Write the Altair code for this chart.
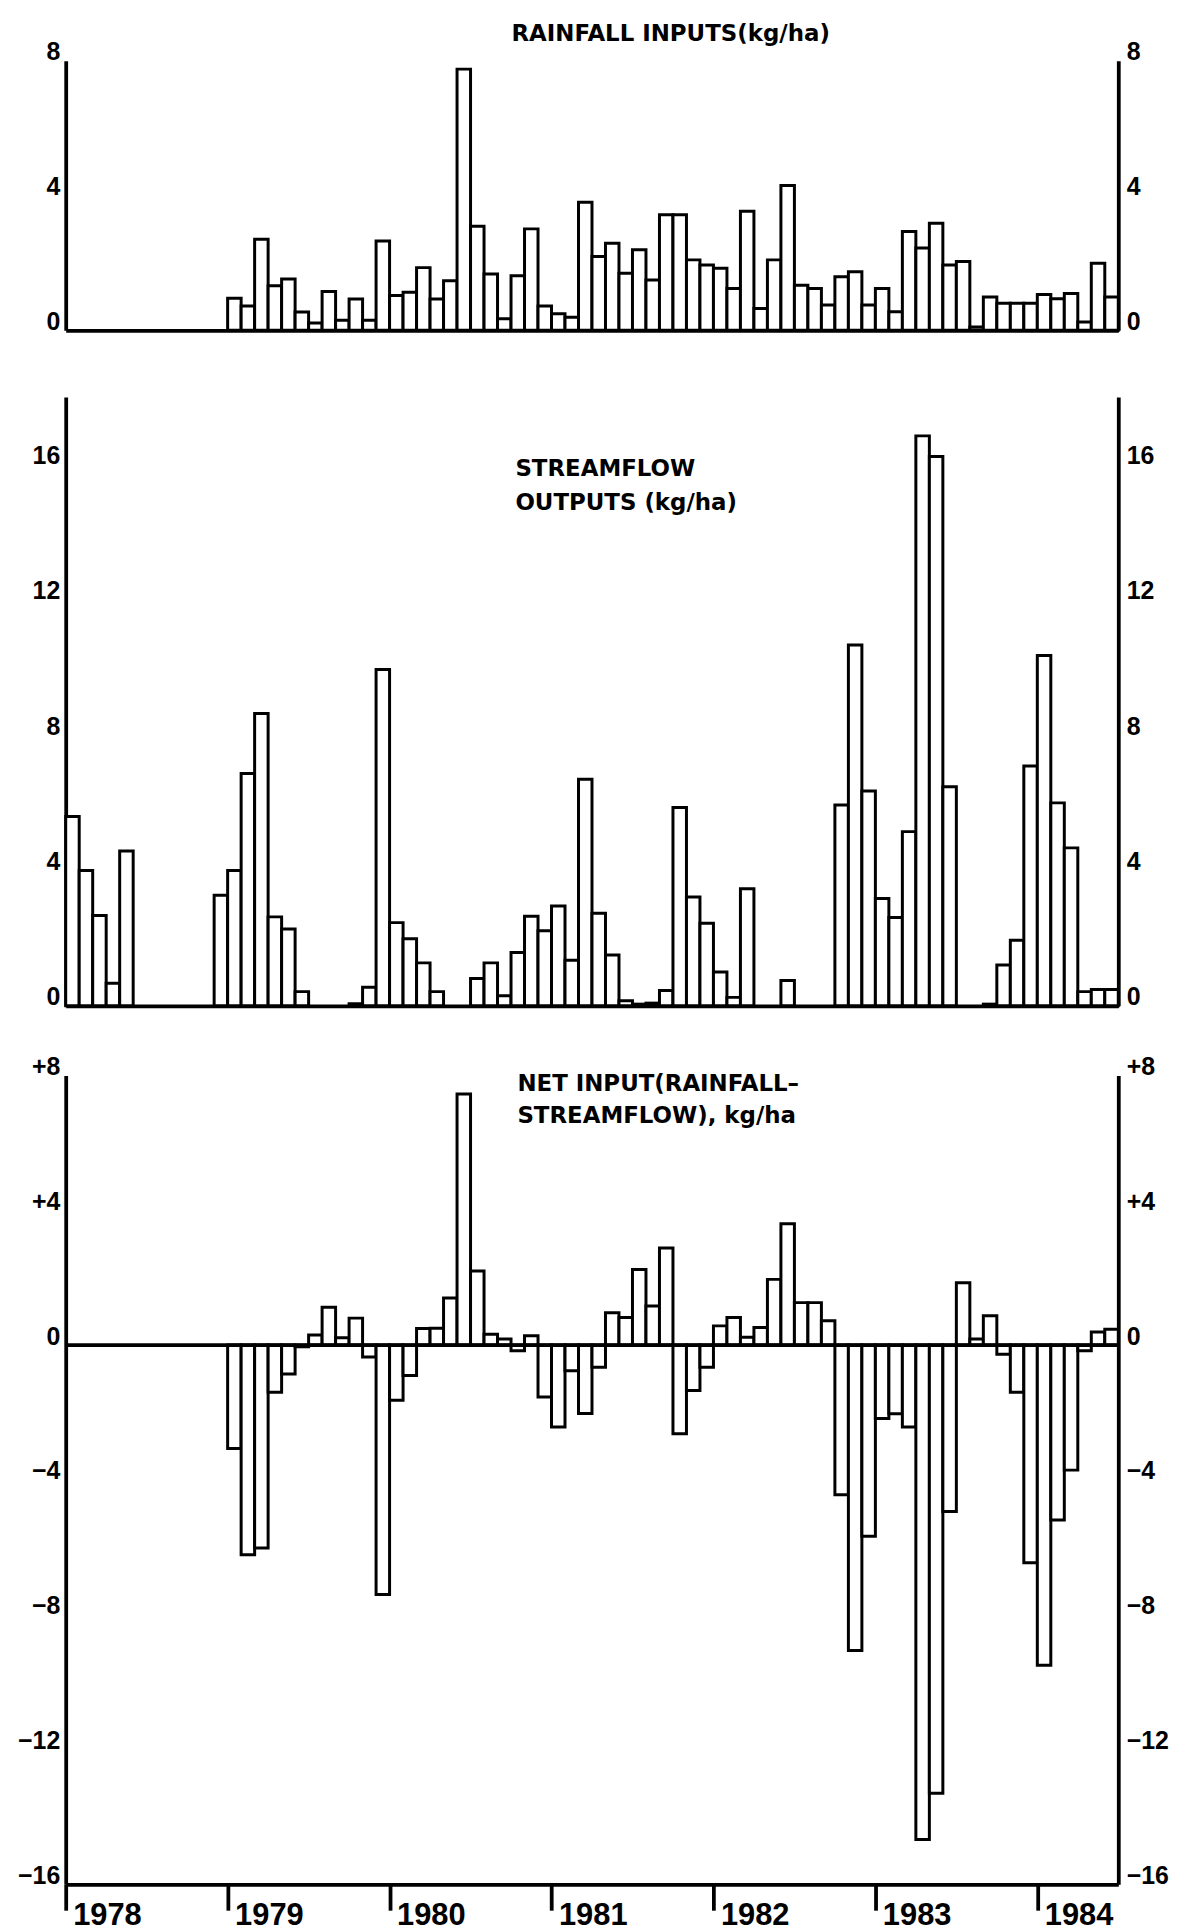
import json
import altair as alt
import pandas as pd

# ---------------- data (monthly values, kg/ha) ----------------
N_MONTHS = 78                      # Jan 1978 .. Jun 1984
YEAR_TICKS = [0, 12, 24, 36, 48, 60, 72]
YEAR_LABELS = ["1978", "1979", "1980", "1981", "1982", "1983", "1984"]

RAIN_START = 12                    # rainfall record begins Jan 1979
RAINFALL = [
    0.95, 0.72, 2.70, 1.32, 1.52, 0.54, 0.22, 1.15, 0.30, 0.93, 0.30, 2.65,
    1.03, 1.13, 1.86, 0.93, 1.47, 7.75, 3.09, 1.67, 0.34, 1.62, 3.01, 0.72,
    0.49, 0.39, 3.80, 2.19, 2.58, 1.69, 2.39, 1.49, 3.43, 3.43, 2.09, 1.94,
    1.84, 1.24, 3.53, 0.65, 2.09, 4.30, 1.34, 1.24, 0.75, 1.59, 1.74, 0.75,
    1.24, 0.55, 2.93, 2.44, 3.18, 1.94, 2.04, 0.10, 0.99, 0.80, 0.80, 0.80,
    1.06, 0.94, 1.09, 0.25, 1.99, 0.99,
]

STREAM_START = 0
STREAMFLOW = [
    5.60, 4.00, 2.67, 0.67, 4.58, 0, 0, 0, 0, 0, 0, 3.27,
    4.00, 6.87, 8.64, 2.63, 2.27, 0.42, 0, 0, 0, 0.06, 0.55, 9.94,
    2.46, 1.98, 1.27, 0.42, 0, 0, 0.81, 1.27, 0.30, 1.58, 2.65, 2.22,
    2.95, 1.35, 6.70, 2.74, 1.50, 0.15, 0.05, 0.08, 0.45, 5.86, 3.22, 2.44,
    1.00, 0.25, 3.46, 0, 0, 0.75, 0, 0, 0, 5.94, 10.67, 6.35,
    3.17, 2.61, 5.15, 16.85, 16.24, 6.48, 0, 0, 0.05, 1.21, 1.94, 7.09,
    10.36, 6.00, 4.67, 0.42, 0.48, 0.48,
]

NET_START = 12
NET = [
    -3.07, -6.22, -6.02, -1.40, -0.86, -0.05, 0.30, 1.12, 0.22, 0.80, -0.35, -7.40,
    -1.64, -0.90, 0.49, 0.50, 1.40, 7.45, 2.20, 0.32, 0.18, -0.17, 0.28, -1.54,
    -2.43, -0.76, -2.03, -0.66, 0.96, 0.82, 2.24, 1.16, 2.88, -2.63, -1.35, -0.66,
    0.57, 0.82, 0.23, 0.52, 1.95, 3.60, 1.26, 1.26, 0.72, -4.44, -9.06, -5.67,
    -2.18, -2.04, -2.43, -14.67, -13.30, -4.94, 1.85, 0.18, 0.87, -0.27, -1.40, -6.46,
    -9.50, -5.19, -3.71, -0.17, 0.39, 0.47,
]

# panel captions: (text, left x in px within plot, y in px within plot)
TITLE_RAIN = [("RAINFALL  INPUTS(kg/ha)", 448, -27)]
TITLE_STREAM = [("STREAMFLOW", 452, 72), ("OUTPUTS (kg/ha)", 452, 107)]
TITLE_NET = [("NET  INPUT(RAINFALL\u2013", 454, 9), ("STREAMFLOW), kg/ha", 454, 41)]


def frame(values, start):
    rows = []
    for k, v in enumerate(values):
        if v == 0:
            continue
        m = start + k
        rows.append({"m": m, "m2": m + 1, "v": v, "z": 0})
    return pd.DataFrame(rows)


# ---------------- styling ----------------
W = 1058
FONT = "Liberation Sans"
TFONT = "DejaVu Sans"
LINE = 3.8
BAR_LINE = 3.0
NO_VIEW = alt.ViewBackground(stroke="transparent", strokeWidth=0, strokeOpacity=0)

xscale = alt.Scale(domain=[0, N_MONTHS], nice=False, zero=False)


def y_axis(orient, ticks, expr=None):
    kw = dict(
        orient=orient, values=ticks, ticks=False, grid=False, title=None,
        labelOffset=-9, labelPadding=6 if orient == "left" else 8,
        labelFont=FONT, labelFontSize=25, labelFontWeight="bold",
        labelColor="black", domainColor="black", domainWidth=LINE,
        labelAlign="right" if orient == "left" else "left",
    )
    if orient == "left":
        kw.update(minExtent=53, maxExtent=53)
    if expr:
        kw["labelExpr"] = expr
    return alt.Axis(**kw)


def plain_x_axis(extent):
    return alt.Axis(labels=False, ticks=False, grid=False, title=None,
                    domainColor="black", domainWidth=LINE,
                    minExtent=extent, maxExtent=extent)


year_axis = alt.Axis(
    values=YEAR_TICKS, grid=False, title=None,
    labelExpr=json.dumps(YEAR_LABELS) + "[round(datum.value / 12)]",
    tickSize=26, tickWidth=LINE, tickColor="black",
    labelAlign="left", labelBaseline="top", labelOffset=7, labelPadding=-10,
    labelFont=FONT, labelFontSize=31, labelFontWeight="bold", labelColor="black",
    domainColor="black", domainWidth=LINE,
)


def text_layers(words):
    layers = []
    for t, x, y in words:
        layers.append(
            alt.Chart(pd.DataFrame({"t": [t]})).mark_text(
                font=TFONT, fontSize=23, fontWeight="bold", align="left",
                baseline="middle", color="black",
            ).encode(x=alt.value(x), y=alt.value(y), text="t:N")
        )
    return layers


def panel(df, domain, ticks, height, xaxis, texts, expr=None, zero_rule=False):
    yscale = alt.Scale(domain=domain, nice=False, zero=False)
    left_ax = y_axis("left", ticks, expr)
    bars = alt.Chart(df).mark_bar(
        fill="white", stroke="black", strokeWidth=BAR_LINE
    ).encode(
        x=alt.X("m:Q", scale=xscale, axis=xaxis),
        x2="m2:Q",
        y=alt.Y("v:Q", scale=yscale, axis=left_ax),
        y2="z:Q",
    ).properties(view=NO_VIEW)
    left_layers = [bars]
    if zero_rule:
        left_layers.append(
            alt.Chart(pd.DataFrame({"z": [0]})).mark_rule(
                color="black", strokeWidth=LINE
            ).encode(y=alt.Y("z:Q", scale=yscale, axis=left_ax))
        )
    left_layers.extend(texts)
    left = alt.layer(*left_layers).properties(view=NO_VIEW)
    right = alt.Chart(df).mark_rule(opacity=0, strokeOpacity=0).encode(
        y=alt.Y("v:Q", scale=yscale, axis=y_axis("right", ticks, expr))
    ).properties(view=NO_VIEW)
    return alt.layer(left, right).resolve_scale(y="independent").properties(
        width=W, height=height, view=NO_VIEW
    )


rain_df = frame(RAINFALL, RAIN_START)
stream_df = frame(STREAMFLOW, STREAM_START)
net_df = frame(NET, NET_START)

top = panel(rain_df, [0, 8], [0, 4, 8], 271, plain_x_axis(22),
            text_layers(TITLE_RAIN))
middle = panel(stream_df, [0, 18], [0, 4, 8, 12, 16], 612, plain_x_axis(2),
               text_layers(TITLE_STREAM))
bottom = panel(net_df, [-16, 8], [-16, -12, -8, -4, 0, 4, 8], 813, year_axis,
               text_layers(TITLE_NET),
               expr="datum.value > 0 ? '+' + datum.label : datum.label",
               zero_rule=True)

chart = alt.vconcat(top, middle, bottom, spacing=45).properties(
    padding={"left": 5, "top": 10, "right": 5, "bottom": 5}
).configure_view(
    stroke="transparent", strokeWidth=0, strokeOpacity=0
).configure_axisX(gridOpacity=0).configure_axisY(gridOpacity=0).configure(
    background="white"
)

chart.save("out.html", embed_options={"renderer": "svg", "actions": False})
